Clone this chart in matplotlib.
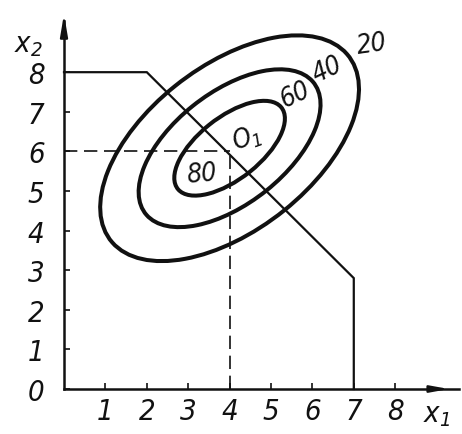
import matplotlib
matplotlib.use("Agg")
import matplotlib.pyplot as plt
from matplotlib.patches import Ellipse

# --- data -------------------------------------------------------------
x_ticks = [1, 2, 3, 4, 5, 6, 7, 8]
y_ticks = [0, 1, 2, 3, 4, 5, 6, 7, 8]

# level curves of the objective around the unconstrained optimum O1
center = (4.0, 6.08)
ell_width = [7.4, 5.24, 3.24]
ell_height = [4.1, 2.78, 1.54]
ell_angle = 40

level_labels = ["20", "40", "60", "80"]
level_label_x = [7.44, 6.35, 5.58, 3.33]
level_label_y = [8.71, 8.08, 7.45, 5.43]
level_label_rot = [8, 25, 25, 5]

# boundary of the feasible region
bound_x = [0, 2, 7, 7]
bound_y = [8, 8, 2.8, 0]

# constrained optimum
opt_x, opt_y = 4, 6

# --- style ------------------------------------------------------------
plt.rcParams["font.family"] = ["DejaVu Sans"]
plt.rcParams["font.style"] = "italic"
plt.rcParams["font.stretch"] = "condensed"
plt.rcParams["mathtext.fontset"] = "custom"
plt.rcParams["mathtext.it"] = "DejaVu Sans:italic"
plt.rcParams["mathtext.rm"] = "DejaVu Sans:italic"

ink = "#111111"
fig = plt.figure(figsize=(4.62, 4.35), dpi=100)
ax = fig.add_axes([0, 0, 1, 1])
ax.set_xlim(-1.546, 9.614)
ax.set_ylim(-1.136, 9.848)

# axes through the origin with arrows
for side in ("top", "right"):
    ax.spines[side].set_visible(False)
for side in ("left", "bottom"):
    ax.spines[side].set_position(("data", 0))
    ax.spines[side].set_linewidth(1.8)
    ax.spines[side].set_color(ink)
ax.spines["left"].set_bounds(0, 9.3)
ax.spines["bottom"].set_bounds(0, 9.55)
ax.annotate("", xy=(0, 9.47), xytext=(0, 8.9),
            arrowprops=dict(arrowstyle="-|>,head_length=1.3,head_width=0.22",
                            lw=1.6, color=ink, shrinkA=0, shrinkB=0))
ax.annotate("", xy=(9.3, 0), xytext=(8.8, 0),
            arrowprops=dict(arrowstyle="-|>,head_length=1.1,head_width=0.2",
                            lw=1.6, color=ink, shrinkA=0, shrinkB=0))

ax.set_xticks(x_ticks)
ax.set_yticks(y_ticks)
ax.set_xticklabels([str(v) for v in x_ticks])
ax.set_yticklabels([str(v) for v in y_ticks])
ax.tick_params(axis="x", direction="in", length=4, width=1.2, pad=6,
               labelsize=21, colors=ink)
ax.tick_params(axis="y", direction="in", length=4, width=1.2, pad=14,
               labelsize=21, colors=ink)

ax.text(-0.87, 8.71, "$x_2$", fontsize=21, ha="center", va="center", color=ink)
ax.text(9.01, -0.63, "$x_1$", fontsize=21, ha="center", va="center", color=ink)

# level curves
for w, h in zip(ell_width, ell_height):
    ax.add_patch(Ellipse(center, w, h, angle=ell_angle, fill=False,
                         lw=2.9, ec=ink))

for t, lx, ly, r in zip(level_labels, level_label_x, level_label_y, level_label_rot):
    ax.text(lx, ly, t, fontsize=19, ha="center", va="center",
            rotation=r, color=ink)
ax.text(4.42, 6.35, "$O_1$", fontsize=19, ha="center", va="center",
        rotation=20, color=ink)

# feasible-region boundary
ax.plot(bound_x, bound_y, color=ink, lw=1.6, solid_joinstyle="miter")

# projections of the constrained optimum
ax.plot([opt_x, opt_x], [0, opt_y], color=ink, lw=1.2, dashes=(8, 4))
ax.plot([0, opt_x], [opt_y, opt_y], color=ink, lw=1.2, dashes=(8, 4))

fig.savefig("out.png", dpi=100, facecolor="white")
